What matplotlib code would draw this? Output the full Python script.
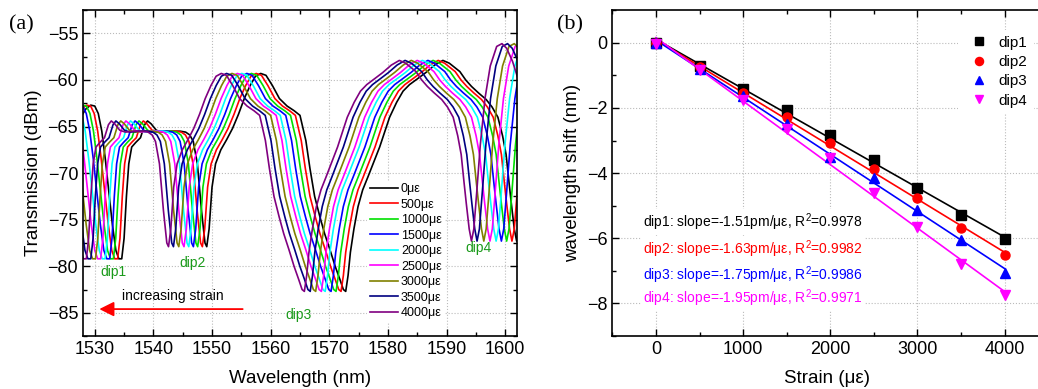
import numpy as np
import matplotlib
matplotlib.use('Agg')
import matplotlib.pyplot as plt
from matplotlib.ticker import MultipleLocator

plt.rcParams['font.family'] = ['Liberation Sans', 'DejaVu Sans']
plt.rcParams['mathtext.fontset'] = 'custom'
plt.rcParams['mathtext.rm'] = 'Liberation Sans'

# ---- panel (a): 0 ue spectrum ----
base_wl = [1527.0, 1527.8, 1528.5, 1529.3, 1530.0, 1530.6, 1531.2, 1531.8, 1532.4, 1533.0,
           1533.6, 1534.1, 1534.6, 1535.0, 1535.4, 1535.8, 1536.3, 1537.0, 1537.8, 1538.5,
           1539.0, 1539.6, 1540.5, 1541.5, 1543.0, 1544.6, 1545.5, 1546.2, 1546.8, 1547.5,
           1548.2, 1548.8, 1549.1, 1549.5, 1550.0, 1550.6, 1551.5, 1552.5, 1553.5, 1554.5,
           1555.5, 1556.5, 1557.4, 1558.3, 1559.2, 1560.3, 1561.5, 1562.8, 1564.0, 1565.0,
           1566.0, 1566.7, 1567.5, 1568.4, 1569.2, 1570.1, 1571.0, 1571.8, 1572.4, 1572.8,
           1573.2, 1573.6, 1574.2, 1574.9, 1575.7, 1576.6, 1577.6, 1578.6, 1579.5, 1580.3,
           1581.5, 1582.6, 1583.7, 1585.0, 1586.5, 1588.0, 1589.4, 1590.5, 1591.5, 1592.3,
           1593.3, 1594.3, 1595.5, 1596.8, 1597.8, 1598.8, 1599.6, 1600.2, 1600.7, 1601.1,
           1601.6, 1602.0, 1602.4, 1602.9, 1603.5, 1604.3, 1605.2, 1606.3, 1607.2, 1608.0,
           1609.0, 1610.0]
base_db = [-64.5, -63.8, -63.1, -62.7, -62.8, -63.6, -65.5, -68.5, -72.0, -75.5,
           -78.3, -79.2, -79.2, -77.0, -72.5, -69.0, -67.2, -66.7, -66.2, -64.8,
           -64.4, -64.7, -65.4, -65.6, -65.5, -65.5, -65.6, -65.9, -66.6, -69.0,
           -74.0, -77.5, -77.9, -76.0, -71.5, -69.0, -67.5, -66.4, -65.2, -63.7,
           -62.0, -60.6, -59.6, -59.3, -59.5, -60.6, -62.0, -62.8, -63.3, -63.8,
           -66.5, -69.5, -72.5, -74.7, -76.5, -78.2, -80.0, -81.4, -82.5, -82.7,
           -81.0, -78.5, -76.0, -73.6, -71.8, -70.4, -68.8, -67.2, -65.5, -64.0,
           -62.4, -61.2, -60.5, -59.9, -59.2, -58.4, -57.9, -58.2, -58.7, -59.1,
           -60.0, -60.7, -61.4, -62.1, -62.9, -64.0, -66.0, -68.0, -71.0, -73.3,
           -76.0, -77.3, -76.0, -72.0, -67.0, -62.0, -58.5, -56.4, -56.1, -56.6,
           -58.0, -60.0]

strain = [0, 500, 1000, 1500, 2000, 2500, 3000, 3500, 4000]
strain_labels = ['0\u03bc\u03b5', '500\u03bc\u03b5', '1000\u03bc\u03b5', '1500\u03bc\u03b5',
                 '2000\u03bc\u03b5', '2500\u03bc\u03b5', '3000\u03bc\u03b5', '3500\u03bc\u03b5',
                 '4000\u03bc\u03b5']
curve_colors = ['black', 'red', '#00e000', 'blue', 'cyan', 'magenta', '#808000', '#000080', '#800080']

# ---- panel (b): dip wavelength shifts (nm) ----
dip_wl0 = [1534.4, 1549.1, 1572.7, 1602.0]
dip1 = [0.0, -0.70, -1.42, -2.05, -2.83, -3.60, -4.47, -5.27, -6.03]
dip2 = [0.0, -0.75, -1.55, -2.28, -3.07, -3.88, -4.77, -5.68, -6.52]
dip3 = [0.0, -0.80, -1.65, -2.50, -3.50, -4.15, -5.12, -6.05, -7.05]
dip4 = [-0.05, -0.85, -1.75, -2.65, -3.55, -4.60, -5.65, -6.80, -7.75]
dip_names = ['dip1', 'dip2', 'dip3', 'dip4']
dip_colors = ['black', 'red', 'blue', 'magenta']
dip_markers = ['s', 'o', '^', 'v']
fit_text = ['dip1: slope=-1.51pm/\u03bc\u03b5, R$^2$=0.9978',
            'dip2: slope=-1.63pm/\u03bc\u03b5, R$^2$=0.9982',
            'dip3: slope=-1.75pm/\u03bc\u03b5, R$^2$=0.9986',
            'dip4: slope=-1.95pm/\u03bc\u03b5, R$^2$=0.9971']

fig = plt.figure(figsize=(10.38, 3.89), dpi=100)
ax1 = fig.add_axes([0.080, 0.136, 0.418, 0.838])
ax2 = fig.add_axes([0.590, 0.136, 0.413, 0.838])

grid_kw = dict(color='#bbbbbb', linestyle=':', linewidth=0.8)

# (a)
wl = np.array(base_wl)
shifts = np.array([dip1, dip2, dip3, dip4])
for i in range(len(strain)):
    sh = np.interp(wl, dip_wl0, shifts[:, i])
    ax1.plot(wl + sh, base_db, color=curve_colors[i], lw=1.2, label=strain_labels[i])

ax1.set_xlim(1528, 1602)
ax1.set_ylim(-87.5, -52.5)
ax1.xaxis.set_major_locator(MultipleLocator(10))
ax1.xaxis.set_minor_locator(MultipleLocator(5))
ax1.yaxis.set_major_locator(MultipleLocator(5))
ax1.yaxis.set_minor_locator(MultipleLocator(2.5))
ax1.grid(True, **grid_kw)
ax1.set_axisbelow(True)
ax1.set_xlabel('Wavelength (nm)', fontsize=13.5, labelpad=9)
ax1.set_ylabel('Transmission (dBm)', fontsize=13.5, labelpad=4)

green = '#1a9a1a'
ax1.text(1533.2, -80.6, 'dip1', color=green, fontsize=10, ha='center', va='center')
ax1.text(1546.7, -79.6, 'dip2', color=green, fontsize=10, ha='center', va='center')
ax1.text(1564.7, -85.2, 'dip3', color=green, fontsize=10, ha='center', va='center')
ax1.text(1595.4, -78.0, 'dip4', color=green, fontsize=10, ha='center', va='center')
ax1.text(1543.3, -83.2, 'increasing strain', fontsize=10, ha='center', va='center')
ax1.annotate('', xy=(1530.3, -84.6), xytext=(1555.7, -84.6),
             arrowprops=dict(arrowstyle='-|>', color='red', lw=1.3, mutation_scale=22))
leg1 = ax1.legend(loc='upper left', bbox_to_anchor=(0.655, 0.477), borderaxespad=0,
                  frameon=True, fancybox=False, edgecolor='none', facecolor='white', framealpha=1,
                  handlelength=2.3, handletextpad=0.2, labelspacing=0.28,
                  borderpad=0.2, prop={'family': ['Liberation Sans'], 'size': 9})
leg1.set_zorder(5)

# (b)
dips = [dip1, dip2, dip3, dip4]
s = np.array(strain)
for d, name, c, m in zip(dips, dip_names, dip_colors, dip_markers):
    ax2.plot(s, d, linestyle='none', marker=m, color=c, markersize=6.5, label=name, zorder=4)
    k, b0 = np.polyfit(s, d, 1)
    ax2.plot(s, k * s + b0, color=c, lw=1.2, zorder=3)

ax2.set_xlim(-500, 4420)
ax2.set_ylim(-9, 1)
ax2.xaxis.set_major_locator(MultipleLocator(1000))
ax2.xaxis.set_minor_locator(MultipleLocator(500))
ax2.yaxis.set_major_locator(MultipleLocator(2))
ax2.yaxis.set_minor_locator(MultipleLocator(1))
ax2.grid(True, **grid_kw)
ax2.set_axisbelow(True)
ax2.set_xlabel('Strain (\u03bc\u03b5)', fontsize=13.5, labelpad=9)
ax2.set_ylabel('wavelength shift (nm)', fontsize=13.5, labelpad=4)
ax2.spines['right'].set_visible(False)

ty = [-5.51, -6.32, -7.12, -7.85]
for t, c, y in zip(fit_text, dip_colors, ty):
    ax2.text(-150, y, t, color=c, fontsize=10, ha='left', va='center', zorder=2,
             bbox=dict(facecolor='white', edgecolor='none', pad=1.5))

leg2 = ax2.legend(loc='upper left', bbox_to_anchor=(0.805, 0.94), borderaxespad=0,
                  frameon=True, fancybox=False, edgecolor='none', facecolor='white', framealpha=1,
                  fontsize=11, handletextpad=0.3, labelspacing=0.35, borderpad=0.4,
                  markerscale=0.9)

for ax in (ax1, ax2):
    ax.tick_params(which='both', direction='in', top=True, right=True, labelsize=13)
    ax.tick_params(which='major', length=5, width=1)
    ax.tick_params(which='minor', length=3, width=1)
    for sp in ax.spines.values():
        sp.set_linewidth(1.2)
ax2.tick_params(which='both', right=False)

fig.text(0.009, 0.925, '(a)', family='Liberation Serif', fontsize=16)
fig.text(0.537, 0.925, '(b)', family='Liberation Serif', fontsize=16)

fig.savefig('out.png', dpi=100)
